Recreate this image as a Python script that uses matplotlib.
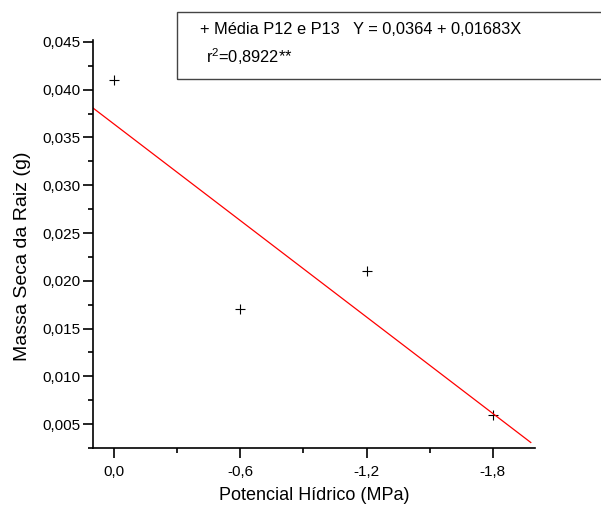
import numpy as np
import matplotlib.pyplot as plt
from matplotlib.ticker import FuncFormatter, MultipleLocator
from matplotlib.patches import Rectangle

plt.rcParams['font.family'] = ['Liberation Sans', 'DejaVu Sans']
plt.rcParams['mathtext.fontset'] = 'custom'
plt.rcParams['mathtext.rm'] = 'Liberation Sans'

# dados
potencial = [0.0, -0.6, -1.2, -1.8]
massa = [0.041, 0.017, 0.021, 0.006]
a, b = 0.0364, 0.01683
x_reta = [0.1, -1.98]

fig = plt.figure(figsize=(6.01, 5.11), dpi=100)
ax = fig.add_axes([93 / 601, 1 - 448 / 511, (535 - 93) / 601, (448 - 40) / 511])

ax.plot(potencial, massa, '+', color='black', markersize=7, markeredgewidth=0.8)
xr = np.array(x_reta)
ax.plot(xr, a + b * xr, color='red', lw=0.9)

ax.set_xlim(0.1, -2.0)
ax.set_ylim(0.0025, 0.0452)

ax.xaxis.set_major_locator(MultipleLocator(0.6))
ax.xaxis.set_minor_locator(MultipleLocator(0.3))
ax.yaxis.set_major_locator(MultipleLocator(0.005))
ax.yaxis.set_minor_locator(MultipleLocator(0.0025))
ax.set_xticks([0.0, -0.6, -1.2, -1.8])

ax.xaxis.set_major_formatter(FuncFormatter(lambda v, p: f"{v:.1f}".replace('.', ',').replace('-0,0', '0,0')))
ax.yaxis.set_major_formatter(FuncFormatter(lambda v, p: f"{v:.3f}".replace('.', ',')))

for s in ['top', 'right']:
    ax.spines[s].set_visible(False)
for s in ['left', 'bottom']:
    ax.spines[s].set_linewidth(1.2)

ax.tick_params(which='major', direction='out', length=7, width=1.2, labelsize=11)
ax.tick_params(axis='y', which='major', pad=2)
ax.tick_params(axis='x', which='major', pad=5)
ax.tick_params(which='minor', direction='out', length=3.5, width=1.2)

ax.set_xlabel('Potencial Hídrico (MPa)', fontsize=13, labelpad=6)
ax.set_ylabel('Massa Seca da Raiz (g)', fontsize=14)
ax.yaxis.set_label_coords(-0.14, 0.47)

# caixa da legenda
fig.patches.append(Rectangle((177 / 601, 1 - 79 / 511), 0.8, 67 / 511, transform=fig.transFigure,
                             fill=False, edgecolor='#444444', lw=1.0))
fig.text(200 / 601, 1 - 30 / 511, '+ Média P12 e P13   Y = 0,0364 + 0,01683X', fontsize=11.8, va='center')
fig.text(206 / 601, 1 - 57 / 511, r'r$^{\mathregular{2}}$=0,8922**', fontsize=11.8, va='center')

fig.savefig('out.png', dpi=100)
